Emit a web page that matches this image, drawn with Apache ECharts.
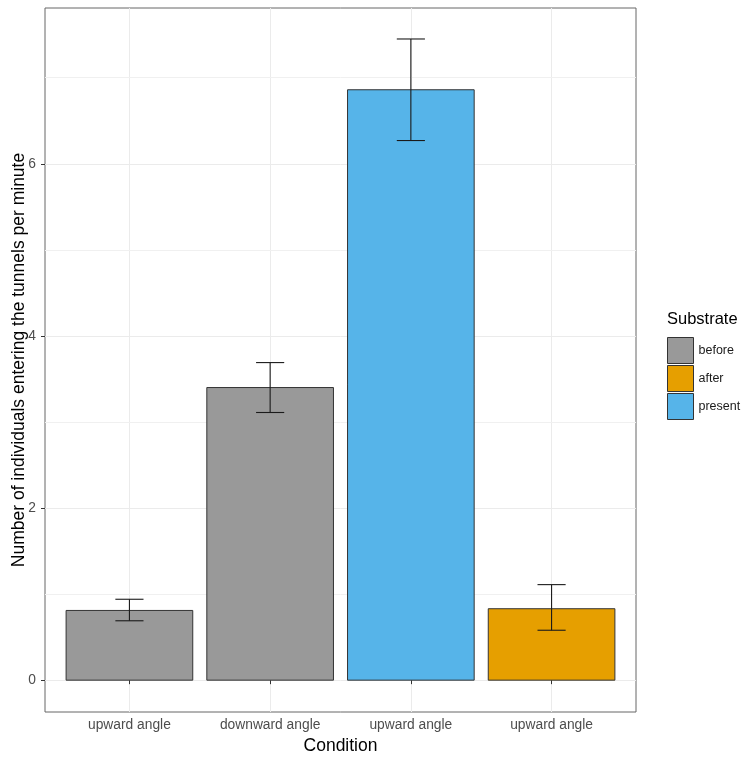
<!DOCTYPE html>
<html>
<head>
<meta charset="utf-8">
<script src="https://cdn.jsdelivr.net/npm/echarts@6/dist/echarts.min.js"></script>
<style>html,body{margin:0;padding:0;background:#fff}#c{width:749px;height:762px}</style>
</head>
<body>
<div id="c"></div>
<script>
// ---- data ----
const categories = ['upward angle', 'downward angle', 'upward angle', 'upward angle'];
const substrate = ['before', 'before', 'present', 'after'];
const means = [0.81, 3.40, 6.86, 0.83];
const errLow = [0.69, 3.11, 6.27, 0.58];
const errHigh = [0.94, 3.69, 7.45, 1.11];
const yTicks = [0, 2, 4, 6];
const yMinorGrid = [1, 3, 5, 7];
const legendGroups = ['before', 'after', 'present'];
const groupColors = { before: '#999999', after: '#E69F00', present: '#56B4E9' };

const FONT = '"Liberation Sans", Arial, Helvetica, sans-serif';
const xPositions = categories.map((c, i) => i + 1);

function renderBar(params, api) {
  const x = api.value(0), y = api.value(1), lo = api.value(2), hi = api.value(3);
  const a = api.coord([x - 0.45, y]);
  const b = api.coord([x + 0.45, 0]);
  const cTop = api.coord([x, hi]);
  const cBot = api.coord([x, lo]);
  const wl = api.coord([x - 0.1, hi])[0];
  const wr = api.coord([x + 0.1, hi])[0];
  const color = api.visual('color');
  const ls = { stroke: '#1a1a1a', lineWidth: 1.1 };
  return {
    type: 'group',
    children: [
      { type: 'rect', shape: { x: a[0], y: a[1], width: b[0] - a[0], height: b[1] - a[1] },
        style: { fill: color, stroke: '#333333', lineWidth: 1 } },
      { type: 'line', shape: { x1: cTop[0], y1: cTop[1], x2: cBot[0], y2: cBot[1] }, style: ls },
      { type: 'line', shape: { x1: wl, y1: cTop[1], x2: wr, y2: cTop[1] }, style: ls },
      { type: 'line', shape: { x1: wl, y1: cBot[1], x2: wr, y2: cBot[1] }, style: ls }
    ]
  };
}

const barSeries = legendGroups.map(g => ({
  name: g,
  type: 'custom',
  renderItem: renderBar,
  itemStyle: { color: groupColors[g], borderColor: '#333333', borderWidth: 1 },
  encode: { x: 0, y: 1 },
  z: 10,
  data: means.map((m, i) => substrate[i] === g ? [xPositions[i], m, errLow[i], errHigh[i]] : null).filter(d => d)
}));

const chart = echarts.init(document.getElementById('c'), null, { renderer: 'canvas' });
chart.setOption({
  animation: false,
  backgroundColor: '#ffffff',
  textStyle: { fontFamily: FONT },
  grid: { left: 45, right: 113, top: 8, bottom: 50, containLabel: false, outerBoundsMode: 'none',
    show: true, borderColor: '#666666', borderWidth: 1, backgroundColor: 'transparent' },
  xAxis: {
    type: 'value', min: 0.4, max: 4.6,
    name: 'Condition', nameLocation: 'middle', nameGap: 24,
    nameTextStyle: { fontSize: 17.5, color: '#000', fontFamily: FONT },
    axisLine: { show: false },
    axisTick: { show: true, length: 4, lineStyle: { color: '#333' }, customValues: xPositions },
    axisLabel: { customValues: xPositions, color: '#4d4d4d', fontSize: 13.8, margin: 6, fontFamily: FONT,
      formatter: v => categories[Math.round(v) - 1] || '' },
    splitLine: { show: true, lineStyle: { color: '#ebebeb', width: 1 } }
  },
  yAxis: {
    type: 'value', min: -0.37, max: 7.81,
    name: 'Number of individuals entering the tunnels per minute', nameLocation: 'middle', nameGap: 16.5,
    nameMoveOverlap: false,
    nameTextStyle: { fontSize: 17.5, color: '#000', fontFamily: FONT },
    axisLine: { show: false },
    axisTick: { show: true, length: 4, lineStyle: { color: '#333' }, customValues: yTicks },
    axisLabel: { customValues: yTicks, color: '#4d4d4d', fontSize: 13.8, margin: 9, fontFamily: FONT },
    splitLine: { show: true, lineStyle: { color: '#ebebeb', width: 1 } }
  },
  title: { text: 'Substrate', left: 662, top: 306, textStyle: { fontSize: 16.5, fontWeight: 'normal', color: '#000', fontFamily: FONT } },
  legend: {
    data: legendGroups, orient: 'vertical', left: 662, top: 332,
    icon: 'rect', itemWidth: 26, itemHeight: 26, itemGap: 1,
    textStyle: { fontSize: 12.5, color: '#1a1a1a', fontFamily: FONT },
    itemStyle: { borderColor: '#333333', borderWidth: 1 },
    selectedMode: false
  },
  series: [
    {
      name: 'minorgrid', type: 'line', data: [], z: 0, silent: true,
      markLine: { silent: true, z: 0, symbol: 'none', label: { show: false },
        lineStyle: { color: '#f0f0f0', width: 1, type: 'solid' },
        data: yMinorGrid.map(v => ({ yAxis: v })) }
    },
    ...barSeries
  ]
});
</script>
</body>
</html>
